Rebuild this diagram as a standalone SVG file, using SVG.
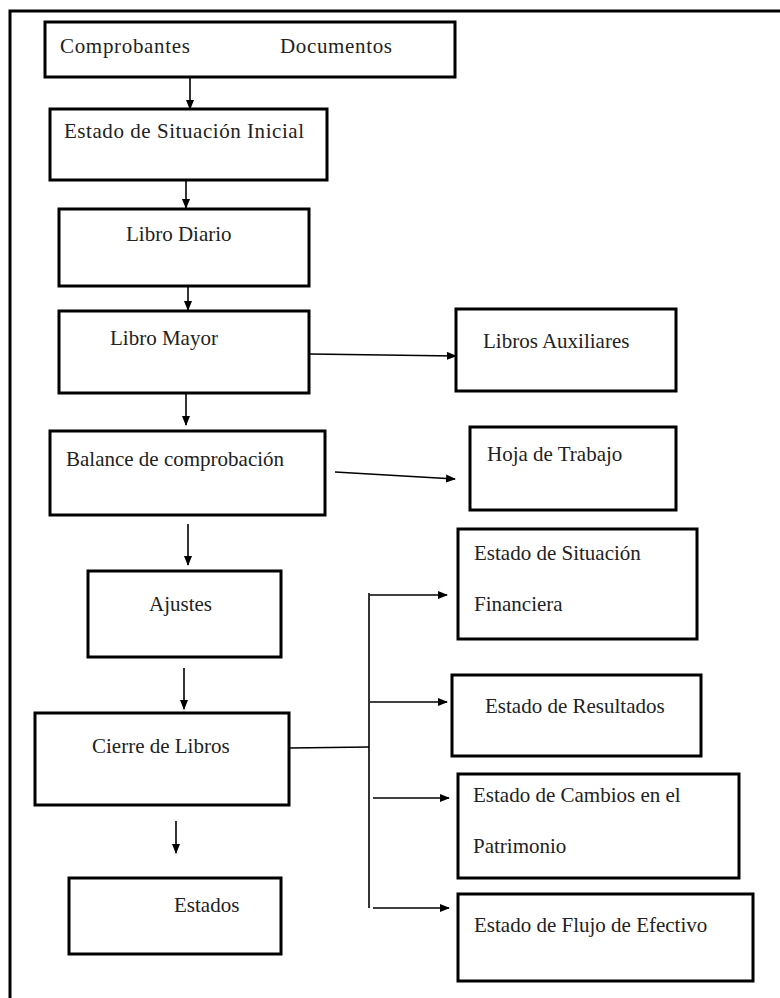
<svg xmlns="http://www.w3.org/2000/svg" width="780" height="998" viewBox="0 0 780 998" font-family="Liberation Serif, DejaVu Serif, serif">
<style>
.box{fill:#fff;stroke:#000;stroke-width:3}
.t{font-size:21px;fill:#222}
.c{fill:none;stroke:#000;stroke-width:1.6}
</style>
<defs>
<marker id="ah" markerWidth="10" markerHeight="8" refX="9" refY="4" orient="auto" markerUnits="userSpaceOnUse">
<path d="M0,0 L10,4 L0,8 Z" fill="#000"/>
</marker>
</defs>
<rect width="780" height="998" fill="#fff"/>
<g id="frame"><path d="M10,998 L10,11 L780,11" fill="none" stroke="#000" stroke-width="3"/></g>
<g id="connectors">
<line class="c" x1="190" y1="77" x2="190" y2="109" marker-end="url(#ah)"/>
<line class="c" x1="186" y1="180" x2="186" y2="208" marker-end="url(#ah)"/>
<line class="c" x1="188" y1="278" x2="188" y2="310" marker-end="url(#ah)"/>
<line class="c" x1="310" y1="354" x2="456" y2="356" marker-end="url(#ah)"/>
<line class="c" x1="186" y1="393" x2="186" y2="425" marker-end="url(#ah)"/>
<line class="c" x1="335" y1="472" x2="455" y2="479" marker-end="url(#ah)"/>
<line class="c" x1="188" y1="524" x2="188" y2="565" marker-end="url(#ah)"/>
<line class="c" x1="184" y1="668" x2="184" y2="709" marker-end="url(#ah)"/>
<line class="c" x1="176" y1="821" x2="176" y2="853" marker-end="url(#ah)"/>
<line class="c" x1="290" y1="748" x2="369" y2="747"/>
<line class="c" x1="369" y1="593" x2="369" y2="908"/>
<line class="c" x1="370" y1="595" x2="447" y2="595" marker-end="url(#ah)"/>
<line class="c" x1="370" y1="702" x2="447" y2="702" marker-end="url(#ah)"/>
<line class="c" x1="373" y1="798" x2="449" y2="798" marker-end="url(#ah)"/>
<line class="c" x1="373" y1="908" x2="449" y2="908" marker-end="url(#ah)"/>
</g>
<g id="n-comprobantes"><rect class="box" x="45" y="22" width="410" height="55"/><text class="t" x="60" y="53" textLength="130">Comprobantes</text><text class="t" x="280" y="53" textLength="112">Documentos</text></g>
<g id="n-esi"><rect class="box" x="50" y="109" width="277" height="71"/><text class="t" x="64" y="138" textLength="240">Estado de Situación Inicial</text></g>
<g id="n-diario"><rect class="box" x="59" y="209" width="250" height="77"/><text class="t" x="126" y="241">Libro Diario</text></g>
<g id="n-mayor"><rect class="box" x="59" y="311" width="250" height="82"/><text class="t" x="110" y="345">Libro Mayor</text></g>
<g id="n-aux"><rect class="box" x="456" y="309" width="220" height="82"/><text class="t" x="483" y="348">Libros Auxiliares</text></g>
<g id="n-balance"><rect class="box" x="50" y="431" width="275" height="84"/><text class="t" x="66" y="466">Balance de comprobación</text></g>
<g id="n-hoja"><rect class="box" x="470" y="427" width="206" height="83"/><text class="t" x="487" y="461">Hoja de Trabajo</text></g>
<g id="n-ajustes"><rect class="box" x="88" y="571" width="193" height="86"/><text class="t" x="149" y="611">Ajustes</text></g>
<g id="n-cierre"><rect class="box" x="35" y="713" width="254" height="92"/><text class="t" x="92" y="753">Cierre de Libros</text></g>
<g id="n-estados"><rect class="box" x="69" y="878" width="212" height="76"/><text class="t" x="174" y="912">Estados</text></g>
<g id="n-esf"><rect class="box" x="458" y="529" width="239" height="110"/><text class="t" x="474" y="560">Estado de Situación</text><text class="t" x="474" y="611">Financiera</text></g>
<g id="n-er"><rect class="box" x="452" y="675" width="249" height="81"/><text class="t" x="485" y="713">Estado de Resultados</text></g>
<g id="n-ecp"><rect class="box" x="458" y="774" width="281" height="104"/><text class="t" x="473" y="802">Estado de Cambios en el</text><text class="t" x="473" y="853">Patrimonio</text></g>
<g id="n-efe"><rect class="box" x="458" y="894" width="295" height="87"/><text class="t" x="474" y="932">Estado de Flujo de Efectivo</text></g>
</svg>
